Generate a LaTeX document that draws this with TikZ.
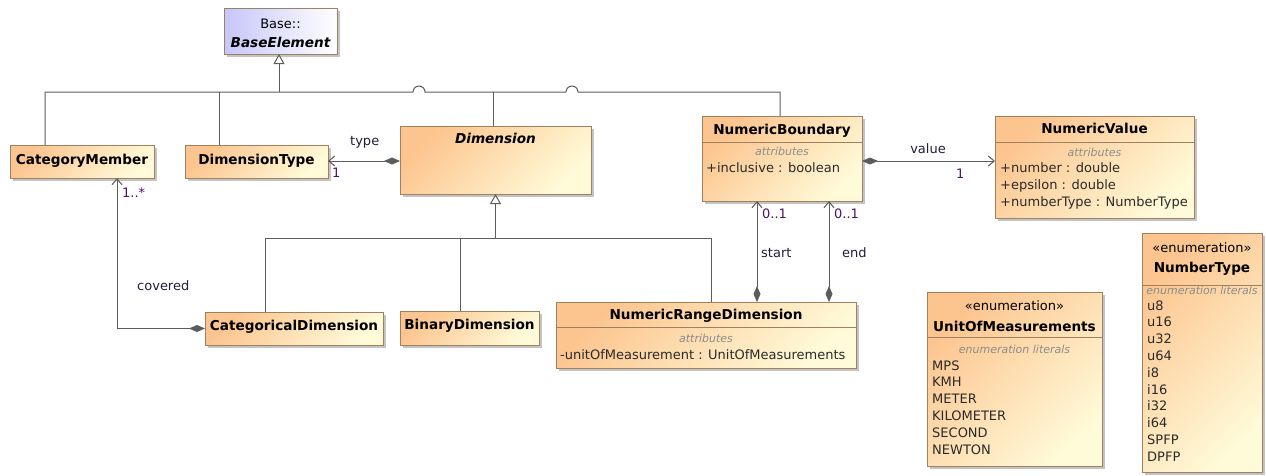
\documentclass[tikz,border=0pt]{standalone}
\usepackage{fontspec}
\setmainfont{DejaVu Sans}
\usetikzlibrary{arrows.meta,shadows,calc}

\definecolor{clsA}{HTML}{FCC48E}
\definecolor{clsB}{HTML}{FFFAD8}
\definecolor{baseA}{HTML}{C6C6FA}
\definecolor{boxedge}{HTML}{A0805E}
\definecolor{wire}{HTML}{5C5C5C}
\definecolor{multc}{HTML}{4A1464}
\definecolor{rolec}{HTML}{1E1E3C}
\definecolor{shadowc}{HTML}{C4C4C4}
\definecolor{compc}{HTML}{8C8C8C}
\definecolor{attrc}{HTML}{2A2A2A}

\begin{document}
\begin{tikzpicture}[x=1pt,y=-1pt,
  box/.style={draw=boxedge, line width=1pt, anchor=north west, inner sep=0pt, outer sep=0pt,
    drop shadow={shadow xshift=3pt, shadow yshift=-3pt, fill=shadowc, opacity=1, draw=none}},
  cls/.style={box, top color=clsA, bottom color=clsB, shading angle=45},
  hd/.style={font=\fontsize{13.6pt}{16pt}\selectfont\bfseries, text=black, inner sep=0pt, anchor=base},
  hdit/.style={font=\fontsize{13.6pt}{16pt}\selectfont\bfseries\itshape, text=black, inner sep=0pt, anchor=base},
  txt/.style={font=\fontsize{13pt}{15pt}\selectfont, text=attrc, inner sep=0pt, anchor=base west},
  stereo/.style={font=\fontsize{13pt}{15pt}\selectfont, text=black, inner sep=0pt, anchor=base},
  comp/.style={font=\fontsize{11pt}{13pt}\selectfont\itshape, text=compc, inner sep=0pt, anchor=base},
  lab/.style={font=\fontsize{13pt}{15pt}\selectfont, text=rolec, inner sep=0pt, anchor=base west},
  mult/.style={font=\fontsize{13pt}{15pt}\selectfont, text=multc, inner sep=0pt, anchor=base west},
  sep/.style={draw=boxedge, line width=1pt},
  conn/.style={draw=wire, line width=1pt},
  gen/.style={conn, -{Triangle[open, length=10pt, width=11pt, fill=white]}},
  comp-nav/.style={conn, {Diamond[length=16pt, width=7pt]}-{Straight Barb[length=6pt, width=10pt]}},
]
\useasboundingbox (0,0) rectangle (1266,475);

% ---------- classes ----------
\node[box, left color=baseA, right color=white, minimum width=113pt, minimum height=46pt] (base) at (224,8) {};
\node[stereo] (baseNs) at (280.5,28) {Base::};
\node[hdit] (baseName) at (280.5,47) {BaseElement};

\node[cls, minimum width=144pt, minimum height=33pt] (catmem) at (10,145) {};
\node[hd] (catmemT) at (82,164) {CategoryMember};

\node[cls, minimum width=143pt, minimum height=33pt] (dimtype) at (185,145) {};
\node[hd] (dimtypeT) at (256.5,164) {DimensionType};

\node[cls, minimum width=191pt, minimum height=68pt] (dim) at (400,126) {};
\node[hdit] (dimT) at (495.5,143) {Dimension};

\node[cls, minimum width=160pt, minimum height=85pt] (nb) at (702,116) {};
\node[hd] (nbT) at (782,134) {NumericBoundary};
\draw[sep] ([yshift=-26pt]nb.north west) -- ([yshift=-26pt]nb.north east);
\node[comp] (nbC) at (782,155) {attributes};
\node[txt] (nbA1) at (706,172) {+inclusive : boolean};

\node[cls, minimum width=199pt, minimum height=102pt] (nv) at (995,116) {};
\node[hd] (nvT) at (1094.5,133) {NumericValue};
\draw[sep] ([yshift=-26pt]nv.north west) -- ([yshift=-26pt]nv.north east);
\node[comp] (nvC) at (1094.5,156) {attributes};
\node[txt] (nvA1) at (1000,172.5) {+number : double};
\node[txt] (nvA2) at (1000,189) {+epsilon : double};
\node[txt] (nvA3) at (1000,206) {+numberType : NumberType};

\node[cls, minimum width=178pt, minimum height=33pt] (catdim) at (205,312) {};
\node[hd] (catdimT) at (294,330) {CategoricalDimension};

\node[cls, minimum width=139pt, minimum height=34pt] (bindim) at (400,311) {};
\node[hd] (bindimT) at (469.5,329) {BinaryDimension};

\node[cls, minimum width=300pt, minimum height=66pt] (nrd) at (556,302) {};
\node[hd] (nrdT) at (706,319) {NumericRangeDimension};
\draw[sep] ([yshift=-25pt]nrd.north west) -- ([yshift=-25pt]nrd.north east);
\node[comp] (nrdC) at (706,342) {attributes};
\node[txt] (nrdA1) at (560,359) {-unitOfMeasurement : UnitOfMeasurements};

% ---------- enumerations ----------
\node[cls, minimum width=175pt, minimum height=174pt] (uom) at (927,292) {};
\node[stereo] (uomS) at (1014.5,310) {«enumeration»};
\node[hd] (uomT) at (1014.5,331) {UnitOfMeasurements};
\draw[sep] ([yshift=-45pt]uom.north west) -- ([yshift=-45pt]uom.north east);
\node[comp] (uomC) at (1014.5,353) {enumeration literals};
\foreach \lit [count=\k from 0] in {MPS,KMH,METER,KILOMETER,SECOND,NEWTON}
  \node[txt] (uomL\k) at (932,370+16.8*\k) {\lit};

\node[cls, minimum width=120pt, minimum height=239pt] (nt) at (1142,233) {};
\node[stereo] (ntS) at (1202,252) {«enumeration»};
\node[hd] (ntT) at (1202,272) {NumberType};
\draw[sep] ([yshift=-52pt]nt.north west) -- ([yshift=-52pt]nt.north east);
\node[comp] (ntC) at (1202,294) {enumeration literals};
\foreach \lit [count=\k from 0] in {u8,u16,u32,u64,i8,i16,i32,i64,SPFP,DPFP}
  \node[txt] (ntL\k) at (1147,310+16.8*\k) {\lit};

% ---------- generalisation to BaseElement ----------
\coordinate (busy) at (0,92);
\draw[conn] ([xshift=35pt]catmem.north west) -- ([xshift=35pt]catmem.north west |- busy)
  -- (413,92) arc[start angle=180, end angle=0, radius=6pt]
  -- (566,92) arc[start angle=180, end angle=0, radius=6pt]
  -- ([xshift=-2pt]nb.north |- busy) -- ([xshift=-2pt]nb.north);
\draw[conn] ([xshift=34pt]dimtype.north west) -- ([xshift=34pt]dimtype.north west |- busy);
\draw[conn] ([xshift=-2pt]dim.north) -- ([xshift=-2pt]dim.north |- busy);
\draw[gen] ([xshift=-1.5pt]base.south |- busy) -- ([xshift=-1.5pt]base.south);

% ---------- generalisation to Dimension ----------
\coordinate (bus2y) at (0,238);
\draw[conn] ([xshift=60pt]catdim.north west) -- ([xshift=60pt]catdim.north west |- bus2y)
  -- ([xshift=155pt]nrd.north west |- bus2y) -- ([xshift=155pt]nrd.north west);
\draw[conn] ([xshift=60pt]bindim.north west) -- ([xshift=60pt]bindim.north west |- bus2y);
\draw[gen] (dim.south |- bus2y) -- (dim.south);

% ---------- associations ----------
\draw[comp-nav] ([yshift=-1pt]dim.west) -- ([yshift=-1pt]dim.west -| dimtype.east);
\node[lab] (typeL) at (350,145) {type};
\node[mult] (typeM) at (332,177) {1};

\draw[comp-nav] ([yshift=-2.5pt]nb.east) -- ([yshift=-2.5pt]nb.east -| nv.west);
\node[lab, anchor=base] (valueL) at (928,153) {value};
\node[mult] (valueM) at (956,178) {1};

\draw[comp-nav] (catdim.west) -| ([xshift=107pt]catmem.south west);
\node[lab] (coveredL) at (137,290) {covered};
\node[mult] (coveredM) at (122,197) {1..*};

\draw[comp-nav] ([xshift=201pt]nrd.north west) -- ([xshift=201pt]nrd.north west |- nb.south);
\draw[comp-nav] ([xshift=273pt]nrd.north west) -- ([xshift=273pt]nrd.north west |- nb.south);
\node[mult] (startM) at (762,218) {0..1};
\node[mult] (endM) at (834,218) {0..1};
\node[lab] (startL) at (761,257) {start};
\node[lab] (endL) at (842,257) {end};
\end{tikzpicture}
\end{document}
